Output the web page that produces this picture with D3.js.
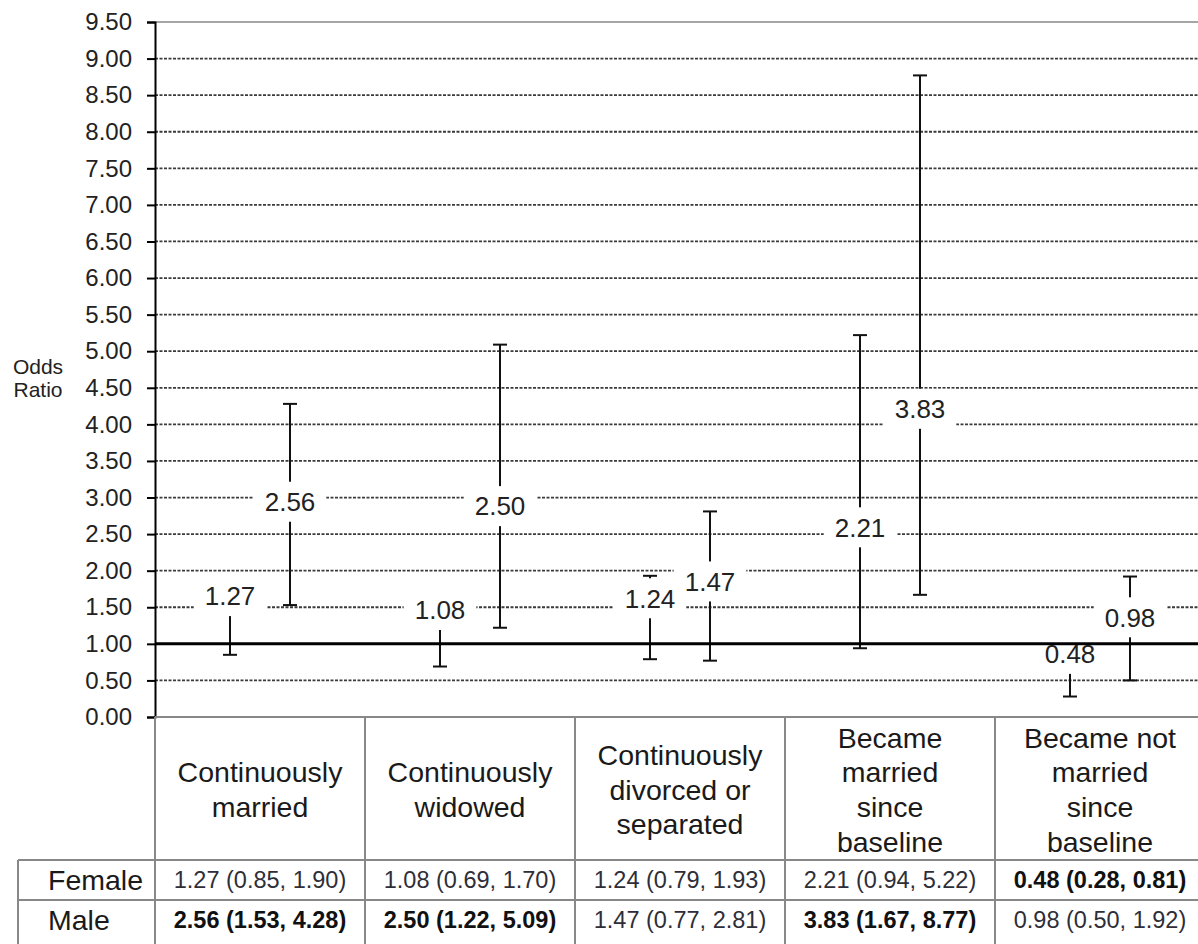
<!DOCTYPE html>
<html lang="en">
<head>
<meta charset="UTF-8">
<title>Odds Ratio by Marital Status Change</title>
<style>
  body { margin: 0; background: #fff; }
  svg { display: block; font-family: "Liberation Sans", Arial, sans-serif; }
</style>
</head>
<body>
<svg id="chart" width="1198" height="944"></svg>
<script src="https://d3js.org/d3.v7.min.js"></script>
<script>
// Categories (column headers) and how each header wraps
const categories = ["cm", "cw", "cd", "bm", "bn"];
const headerLines = [
    ["Continuously", "married"],
    ["Continuously", "widowed"],
    ["Continuously", "divorced or", "separated"],
    ["Became", "married", "since", "baseline"],
    ["Became not", "married", "since", "baseline"]
];

// Odds ratios with 95% CI
const femaleOR = [1.27, 1.08, 1.24, 2.21, 0.48];
const femaleLo = [0.85, 0.69, 0.79, 0.94, 0.28];
const femaleHi = [1.90, 1.70, 1.93, 5.22, 0.81];
const femaleSig = [false, false, false, false, true];

const maleOR = [2.56, 2.50, 1.47, 3.83, 0.98];
const maleLo = [1.53, 1.22, 0.77, 1.67, 0.50];
const maleHi = [4.28, 5.09, 2.81, 8.77, 1.92];
const maleSig = [true, true, false, true, false];

const yTicks = [0, 0.5, 1, 1.5, 2, 2.5, 3, 3.5, 4, 4.5, 5, 5.5, 6, 6.5, 7, 7.5, 8, 8.5, 9, 9.5];

// Build rows for drawing
const series = [
    { sex: "Female", or: femaleOR, lo: femaleLo, hi: femaleHi, sig: femaleSig },
    { sex: "Male", or: maleOR, lo: maleLo, hi: maleHi, sig: maleSig }
];
const points = [];
series.forEach(s => {
    categories.forEach((c, i) => {
        points.push({ cat: c, sex: s.sex, or: s.or[i], lo: s.lo[i], hi: s.hi[i], sig: s.sig[i] });
    });
});

const svg = d3.select("#chart");

const plotLeft = 155, plotRight = 1205, plotTop = 22, plotBottom = 717;

const x = d3.scaleBand().domain(categories).range([plotLeft, plotRight]);
const xSub = d3.scalePoint().domain(["Female", "Male"]).range([-30, 30]);
const y = d3.scaleLinear().domain([0, 9.5]).range([plotBottom, plotTop]);
const cx = d => x(d.cat) + x.bandwidth() / 2 + xSub(d.sex);

// Dashed gridlines
svg.append("g")
    .selectAll("line")
    .data(yTicks.filter(v => v > 0 && v < 9.5))
    .join("line")
    .attr("x1", plotLeft).attr("x2", plotRight)
    .attr("y1", d => y(d)).attr("y2", d => y(d))
    .attr("stroke", "#3a3a3a")
    .attr("stroke-width", 1.8)
    .attr("stroke-dasharray", "3,1.5");

// plot border top
svg.append("line")
    .attr("x1", plotLeft).attr("x2", plotRight)
    .attr("y1", y(9.5)).attr("y2", y(9.5))
    .attr("stroke", "#888").attr("stroke-width", 1.5);

// Error bars
const bars = svg.append("g")
    .selectAll("g")
    .data(points)
    .join("g");

bars.append("line")
    .attr("x1", cx).attr("x2", cx)
    .attr("y1", d => y(d.lo)).attr("y2", d => y(d.hi))
    .attr("stroke", "#111").attr("stroke-width", 2);

bars.append("line")
    .attr("x1", d => cx(d) - 7).attr("x2", d => cx(d) + 7)
    .attr("y1", d => y(d.lo)).attr("y2", d => y(d.lo))
    .attr("stroke", "#111").attr("stroke-width", 2);

bars.append("line")
    .attr("x1", d => cx(d) - 7).attr("x2", d => cx(d) + 7)
    .attr("y1", d => y(d.hi)).attr("y2", d => y(d.hi))
    .attr("stroke", "#111").attr("stroke-width", 2);

// Point-estimate labels with white boxes
const labels = svg.append("g")
    .selectAll("g")
    .data(points)
    .join("g")
    .attr("transform", d => `translate(${cx(d)},${y(d.or) - 28})`);

labels.each(function(d) {
    const g = d3.select(this);
    const rect = g.append("rect").attr("fill", "#fff");
    const t = g.append("text")
        .attr("text-anchor", "middle")
        .attr("dy", "0.36em")
        .style("font-size", "26px")
        .attr("fill", "#222")
        .text(d.or.toFixed(2));
    const w = t.node().getComputedTextLength() + 22;
    rect.attr("x", -w / 2).attr("y", -20).attr("width", w).attr("height", 40);
});

// Reference line at OR = 1
svg.append("line")
    .attr("x1", plotLeft).attr("x2", plotRight)
    .attr("y1", y(1)).attr("y2", y(1))
    .attr("stroke", "#000").attr("stroke-width", 3);

// Y axis
const axis = svg.append("g")
    .attr("transform", `translate(${plotLeft},0)`)
    .call(d3.axisLeft(y).tickValues(yTicks).tickFormat(d3.format(".2f")).tickSize(8).tickPadding(15));
axis.select(".domain").attr("stroke", "#000").attr("stroke-width", 2);
axis.selectAll(".tick line").attr("stroke", "#000").attr("stroke-width", 2);
axis.selectAll(".tick text")
    .style("font-size", "24px")
    .style("font-family", "'Liberation Sans', Arial, sans-serif")
    .attr("fill", "#222");

// Y axis title
svg.append("text")
    .attr("x", 38).attr("y", 366)
    .attr("text-anchor", "middle")
    .attr("dy", "0.36em")
    .style("font-size", "21px")
    .attr("fill", "#222")
    .text("Odds");
svg.append("text")
    .attr("x", 38).attr("y", 389)
    .attr("text-anchor", "middle")
    .attr("dy", "0.36em")
    .style("font-size", "21px")
    .attr("fill", "#222")
    .text("Ratio");

// Table below the plot
const headBottom = 860, rowH = 40, tableLeft = 18, tableBottom = 955;
const table = svg.append("g");
const gridColor = "#888";

table.append("line")
    .attr("x1", plotLeft).attr("x2", plotRight)
    .attr("y1", plotBottom).attr("y2", plotBottom)
    .attr("stroke", gridColor).attr("stroke-width", 2);
[headBottom, headBottom + rowH].forEach(yy => {
    table.append("line")
        .attr("x1", tableLeft).attr("x2", plotRight)
        .attr("y1", yy).attr("y2", yy)
        .attr("stroke", gridColor).attr("stroke-width", 2);
});
table.append("line")
    .attr("x1", tableLeft).attr("x2", tableLeft)
    .attr("y1", headBottom).attr("y2", tableBottom)
    .attr("stroke", gridColor).attr("stroke-width", 2);
table.selectAll(".vline")
    .data(categories)
    .join("line")
    .attr("class", "vline")
    .attr("x1", d => x(d)).attr("x2", d => x(d))
    .attr("y1", plotBottom).attr("y2", tableBottom)
    .attr("stroke", gridColor).attr("stroke-width", 2);

// header texts
const headMid = (plotBottom + headBottom) / 2 + 1;
const lineH = 34.7;
categories.forEach((c, i) => {
    const lines = headerLines[i];
    const t = table.append("text")
        .attr("text-anchor", "middle")
        .style("font-size", "28.5px")
        .attr("fill", "#1a1a1a");
    lines.forEach((ln, j) => {
        t.append("tspan")
            .attr("x", x(c) + x.bandwidth() / 2)
            .attr("y", headMid + (j - (lines.length - 1) / 2) * lineH)
            .attr("dy", "0.36em")
            .text(ln);
    });
});

// row labels and values
series.forEach((s, r) => {
    const rowMid = headBottom + rowH * r + rowH / 2;
    table.append("text")
        .attr("x", 48).attr("y", rowMid)
        .attr("dy", "0.36em")
        .style("font-size", "28.5px")
        .attr("fill", "#1a1a1a")
        .text(s.sex);
    categories.forEach((c, i) => {
        table.append("text")
            .attr("x", x(c) + x.bandwidth() / 2)
            .attr("y", rowMid)
            .attr("dy", "0.36em")
            .attr("text-anchor", "middle")
            .style("font-size", "23.5px")
            .style("font-weight", s.sig[i] ? "bold" : "normal")
            .attr("fill", s.sig[i] ? "#111" : "#2e2e38")
            .text(`${s.or[i].toFixed(2)} (${s.lo[i].toFixed(2)}, ${s.hi[i].toFixed(2)})`);
    });
});
</script>
</body>
</html>
